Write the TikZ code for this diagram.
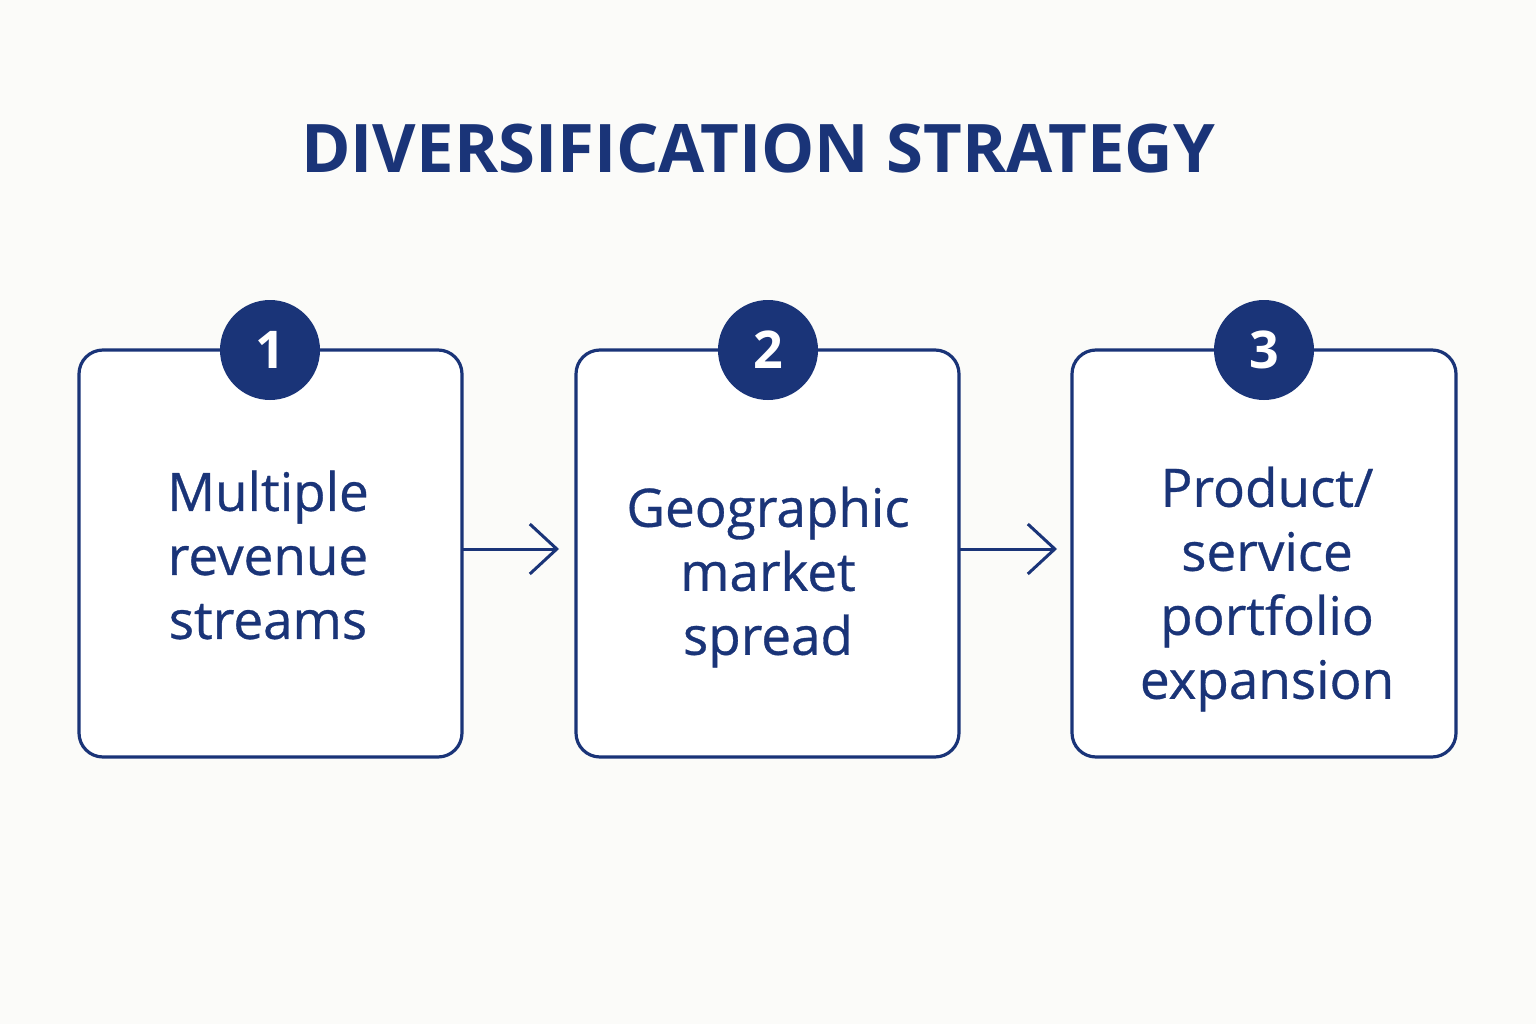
\documentclass[tikz,border=0pt]{standalone}
\usepackage{fontspec}
\setmainfont{Open Sans}
\usetikzlibrary{arrows.meta}
\definecolor{navy}{HTML}{1A3478}
\definecolor{bg}{HTML}{FBFBF9}
\begin{document}
\begin{tikzpicture}[x=1pt,y=-1pt,
  card/.style={draw=navy,line width=3.2pt,rounded corners=24pt,fill=white},
  num/.style={circle,fill=navy,minimum size=100pt,inner sep=0pt,text=white,font=\fontsize{52}{52}\selectfont\bfseries},
  lbl/.style={text=navy,align=center,font=\fontsize{53}{64}\selectfont\addfontfeatures{FakeBold=0.6}},
  flow/.style={draw=navy,line width=3pt,-{Straight Barb[length=27pt,width=50pt,line width=3pt]}}]
\fill[bg] (0,0) rectangle (1536,1024);
\useasboundingbox (0,0) rectangle (1536,1024);
\node[text=navy,font=\fontsize{67}{67}\selectfont\bfseries] (title) at (758,149) {DIVERSIFICATION STRATEGY};
\draw[card] (79,350) rectangle (462,757);
\draw[card] (576,350) rectangle (959,757);
\draw[card] (1072,350) rectangle (1456,757);
\coordinate (b1r) at (462,549); \coordinate (b2l) at (559,549);
\coordinate (b2r) at (959,549); \coordinate (b3l) at (1057,549);
\node[num] (n1) at (270,350) {1};
\node[num] (n2) at (768,350) {2};
\node[num] (n3) at (1264,350) {3};
\node[lbl] (t1) at (268,555) {Multiple\\revenue\\streams};
\node[lbl] (t2) at (768,577) {Geographic\\market\\spread};
\node[lbl] (t3) at (1267,589) {Product/\\service\\portfolio\\expansion};
\draw[flow] (b1r) -- (b2l);
\draw[flow] (b2r) -- (b3l);
\end{tikzpicture}
\end{document}
